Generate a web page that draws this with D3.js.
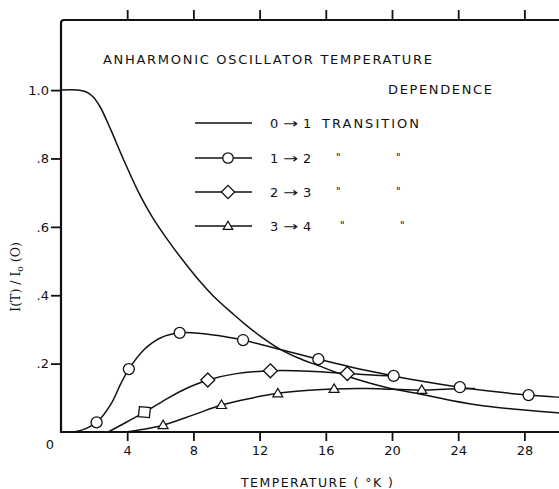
<!DOCTYPE html>
<html><head><meta charset="utf-8">
<script src="https://cdn.jsdelivr.net/npm/d3@7"></script>
<style>
body{margin:0;background:#fff}
svg{display:block;background:#fff}
text{font-family:"DejaVu Sans",sans-serif;fill:#111}
</style>
</head><body>
<svg id="c" width="559" height="489"></svg>
<script>
// ---- data ----
const xTicks = [4, 8, 12, 16, 20, 24, 28];
const yTicks = [0.2, 0.4, 0.6, 0.8, 1.0];
const yTickLabels = [".2", ".4", ".6", ".8", "1.0"];
const title1 = "ANHARMONIC  OSCILLATOR  TEMPERATURE";
const title2 = "DEPENDENCE";
const xTitle = "TEMPERATURE  ( °K )";
const seriesFrom = ["0", "1", "2", "3"];
const seriesTo = ["1", "2", "3", "4"];
const seriesMarkers = ["none", "circle", "diamond", "triangle"];

// 0 -> 1 transition (no markers)
const curve01 = [[0,1.0],[1,1.0],[1.5,0.995],[1.9,0.982],[2.35,0.952],[3,0.885],[3.75,0.80],[4.75,0.695],[5.5,0.63],[6.4,0.565],[7.4,0.50],[8.4,0.44],[9.2,0.398],[10.4,0.345],[11.2,0.312],[12,0.282],[13.2,0.243],[14.3,0.217],[15.55,0.194],[17.3,0.163],[19.6,0.131],[21.6,0.112],[23.5,0.093],[25.6,0.076],[28,0.064],[30,0.056],[32,0.05]];
// 1 -> 2 transition
const curve12 = [[0.75,0],[1.5,0.01],[2.15,0.028],[3,0.08],[3.6,0.14],[4.1,0.184],[5,0.24],[6,0.275],[7.17,0.29],[8.5,0.288],[10,0.278],[11,0.269],[13,0.244],[15.55,0.213],[17.5,0.19],[20.1,0.164],[22,0.147],[24.1,0.131],[26,0.119],[28.25,0.108],[30,0.102],[32,0.097]];
const marks12 = [[2.15,0.028],[4.1,0.184],[7.17,0.29],[11,0.269],[15.55,0.213],[20.1,0.164],[24.1,0.131],[28.25,0.108]];
// 2 -> 3 transition
const curve23 = [[2.85,0],[4,0.03],[5.07,0.058],[6.5,0.1],[7.7,0.13],[8.87,0.152],[10.5,0.17],[12.65,0.179],[15,0.178],[17.3,0.171],[19,0.166],[20.1,0.164]];
const marks23 = [[5.07,0.058],[8.87,0.152],[12.65,0.179],[17.3,0.171]];
// 3 -> 4 transition
const curve34 = [[3.9,0],[5,0.008],[6.17,0.02],[8,0.05],[9.7,0.079],[11.5,0.099],[13.1,0.113],[15,0.122],[16.5,0.126],[18.5,0.127],[20,0.125],[21.8,0.123],[23.5,0.126],[25,0.127]];
const marks34 = [[6.17,0.02],[9.7,0.079],[13.1,0.113],[16.5,0.126],[21.8,0.123]];

// ---- drawing ----
const svg = d3.select("#c");
const x = d3.scaleLinear().domain([0, 32]).range([61, 61 + 32 * 16.55]);
const y = d3.scaleLinear().domain([0, 1.205]).range([432, 20]);
const ink = "#111";

// axes
const gL = svg.append("g").attr("transform", `translate(${x(0)},0)`)
  .call(d3.axisLeft(y).tickValues(yTicks).tickFormat((d,i)=>yTickLabels[i]).tickSize(10).tickPadding(2));
const gB = svg.append("g").attr("transform", `translate(0,${y(0)})`)
  .call(d3.axisBottom(x).tickValues(xTicks).tickSize(9).tickPadding(5));
const gT = svg.append("g").attr("transform", `translate(0,${y(1.205)})`)
  .call(d3.axisTop(x).tickValues(xTicks).tickSize(10).tickFormat(""));
[gL, gB, gT].forEach(g => {
  g.select(".domain").remove();
  g.selectAll(".tick line").attr("stroke", ink).attr("stroke-width", 1.8);
  g.selectAll(".tick text").attr("font-size", 13).attr("fill", ink)
    .style("font-family", "'DejaVu Sans',sans-serif");
});
// frame lines
svg.append("path")
  .attr("d", `M${x(32)},${y(1.205)}H${x(0)+3}Q${x(0)},${y(1.205)} ${x(0)},${y(1.205)+3}V${y(0)}H${x(32)}`)
  .attr("fill", "none").attr("stroke", ink).attr("stroke-width", 2.2);

// origin label
svg.append("text").attr("x", 50).attr("y", 449).attr("text-anchor", "middle")
  .attr("font-size", 13).text("0");

// axis titles
svg.append("text").attr("x", 317).attr("y", 487).attr("text-anchor", "middle")
  .attr("font-size", 12.5).attr("textLength", 152).attr("lengthAdjust", "spacing").text(xTitle);
const yl = svg.append("text").attr("transform", "translate(20,277) rotate(-90)")
  .attr("text-anchor", "middle").attr("font-size", 12.5)
  .style("font-family", "'DejaVu Serif',serif");
yl.append("tspan").text("I(T) / I");
yl.append("tspan").attr("font-size", 9).attr("dy", 3).text("o");
yl.append("tspan").attr("dy", -3).text(" (O)");

// titles
svg.append("text").attr("x", 103).attr("y", 63.5).attr("font-size", 13)
  .attr("textLength", 329).attr("lengthAdjust", "spacing").text(title1);
svg.append("text").attr("x", 388).attr("y", 94).attr("font-size", 13)
  .attr("textLength", 104).attr("lengthAdjust", "spacing").text(title2);

// curves
const line = d3.line().x(d => x(d[0])).y(d => y(d[1])).curve(d3.curveCatmullRom.alpha(0.5));
[curve01, curve12, curve23, curve34].forEach(c => {
  svg.append("path").datum(c).attr("d", line)
    .attr("fill", "none").attr("stroke", ink).attr("stroke-width", 1.5);
});

// marker shapes
function marker(g, type, cx, cy, s) {
  if (type === "circle") {
    g.append("circle").attr("cx", cx).attr("cy", cy).attr("r", 5.5*s)
      .attr("fill", "#fff").attr("stroke", ink).attr("stroke-width", 1.3);
  } else if (type === "diamond") {
    const r = 7*s;
    g.append("path").attr("d", `M${cx},${cy-r}L${cx+r},${cy}L${cx},${cy+r}L${cx-r},${cy}Z`)
      .attr("fill", "#fff").attr("stroke", ink).attr("stroke-width", 1.3);
  } else if (type === "square") {
    const r = 5.5*s;
    g.append("path").attr("d", `M${cx-r},${cy-r}L${cx+r},${cy-r+1}L${cx+r-1},${cy+r}L${cx-r-1},${cy+r-1}Z`)
      .attr("fill", "#fff").attr("stroke", ink).attr("stroke-width", 1.3);
  } else if (type === "triangle") {
    const r = 5*s;
    g.append("path").attr("d", `M${cx},${cy-r}L${cx+r},${cy+r*0.7}L${cx-r},${cy+r*0.7}Z`)
      .attr("fill", "#fff").attr("stroke", ink).attr("stroke-width", 1.2);
  }
}
const mg = svg.append("g");
marks12.forEach(d => marker(mg, "circle", x(d[0]), y(d[1]), 1));
marks23.forEach((d,i) => marker(mg, i === 0 ? "square" : "diamond", x(d[0]), y(d[1]), 1));
marks34.forEach(d => marker(mg, "triangle", x(d[0]), y(d[1]), 1));

// legend
const rowY = [123, 158, 192, 226];
const lg = svg.append("g");
seriesFrom.forEach((f, i) => {
  const ry = rowY[i];
  lg.append("line").attr("x1", 195).attr("x2", 252).attr("y1", ry).attr("y2", ry)
    .attr("stroke", ink).attr("stroke-width", 1.3);
  marker(lg, seriesMarkers[i], 228, ry, 0.95);
  lg.append("text").attr("x", 270).attr("y", ry + 5).attr("font-size", 13).text(f);
  lg.append("text").attr("x", 283).attr("y", ry + 4.5).attr("font-size", 13)
    .attr("textLength", 15).attr("lengthAdjust", "spacingAndGlyphs").text("→");
  lg.append("text").attr("x", 303).attr("y", ry + 5).attr("font-size", 13).text(seriesTo[i]);
  if (i === 0) {
    lg.append("text").attr("x", 322).attr("y", ry + 5).attr("font-size", 13)
      .attr("textLength", 97).attr("lengthAdjust", "spacing").text("TRANSITION");
  } else {
    const dx = i === 3 ? 4 : 0;
    lg.append("text").attr("x", 336 + dx).attr("y", ry + 3).attr("font-size", 10).text("\"");
    lg.append("text").attr("x", 396 + dx).attr("y", ry + 3).attr("font-size", 10).text("\"");
  }
});
</script>
</body></html>
